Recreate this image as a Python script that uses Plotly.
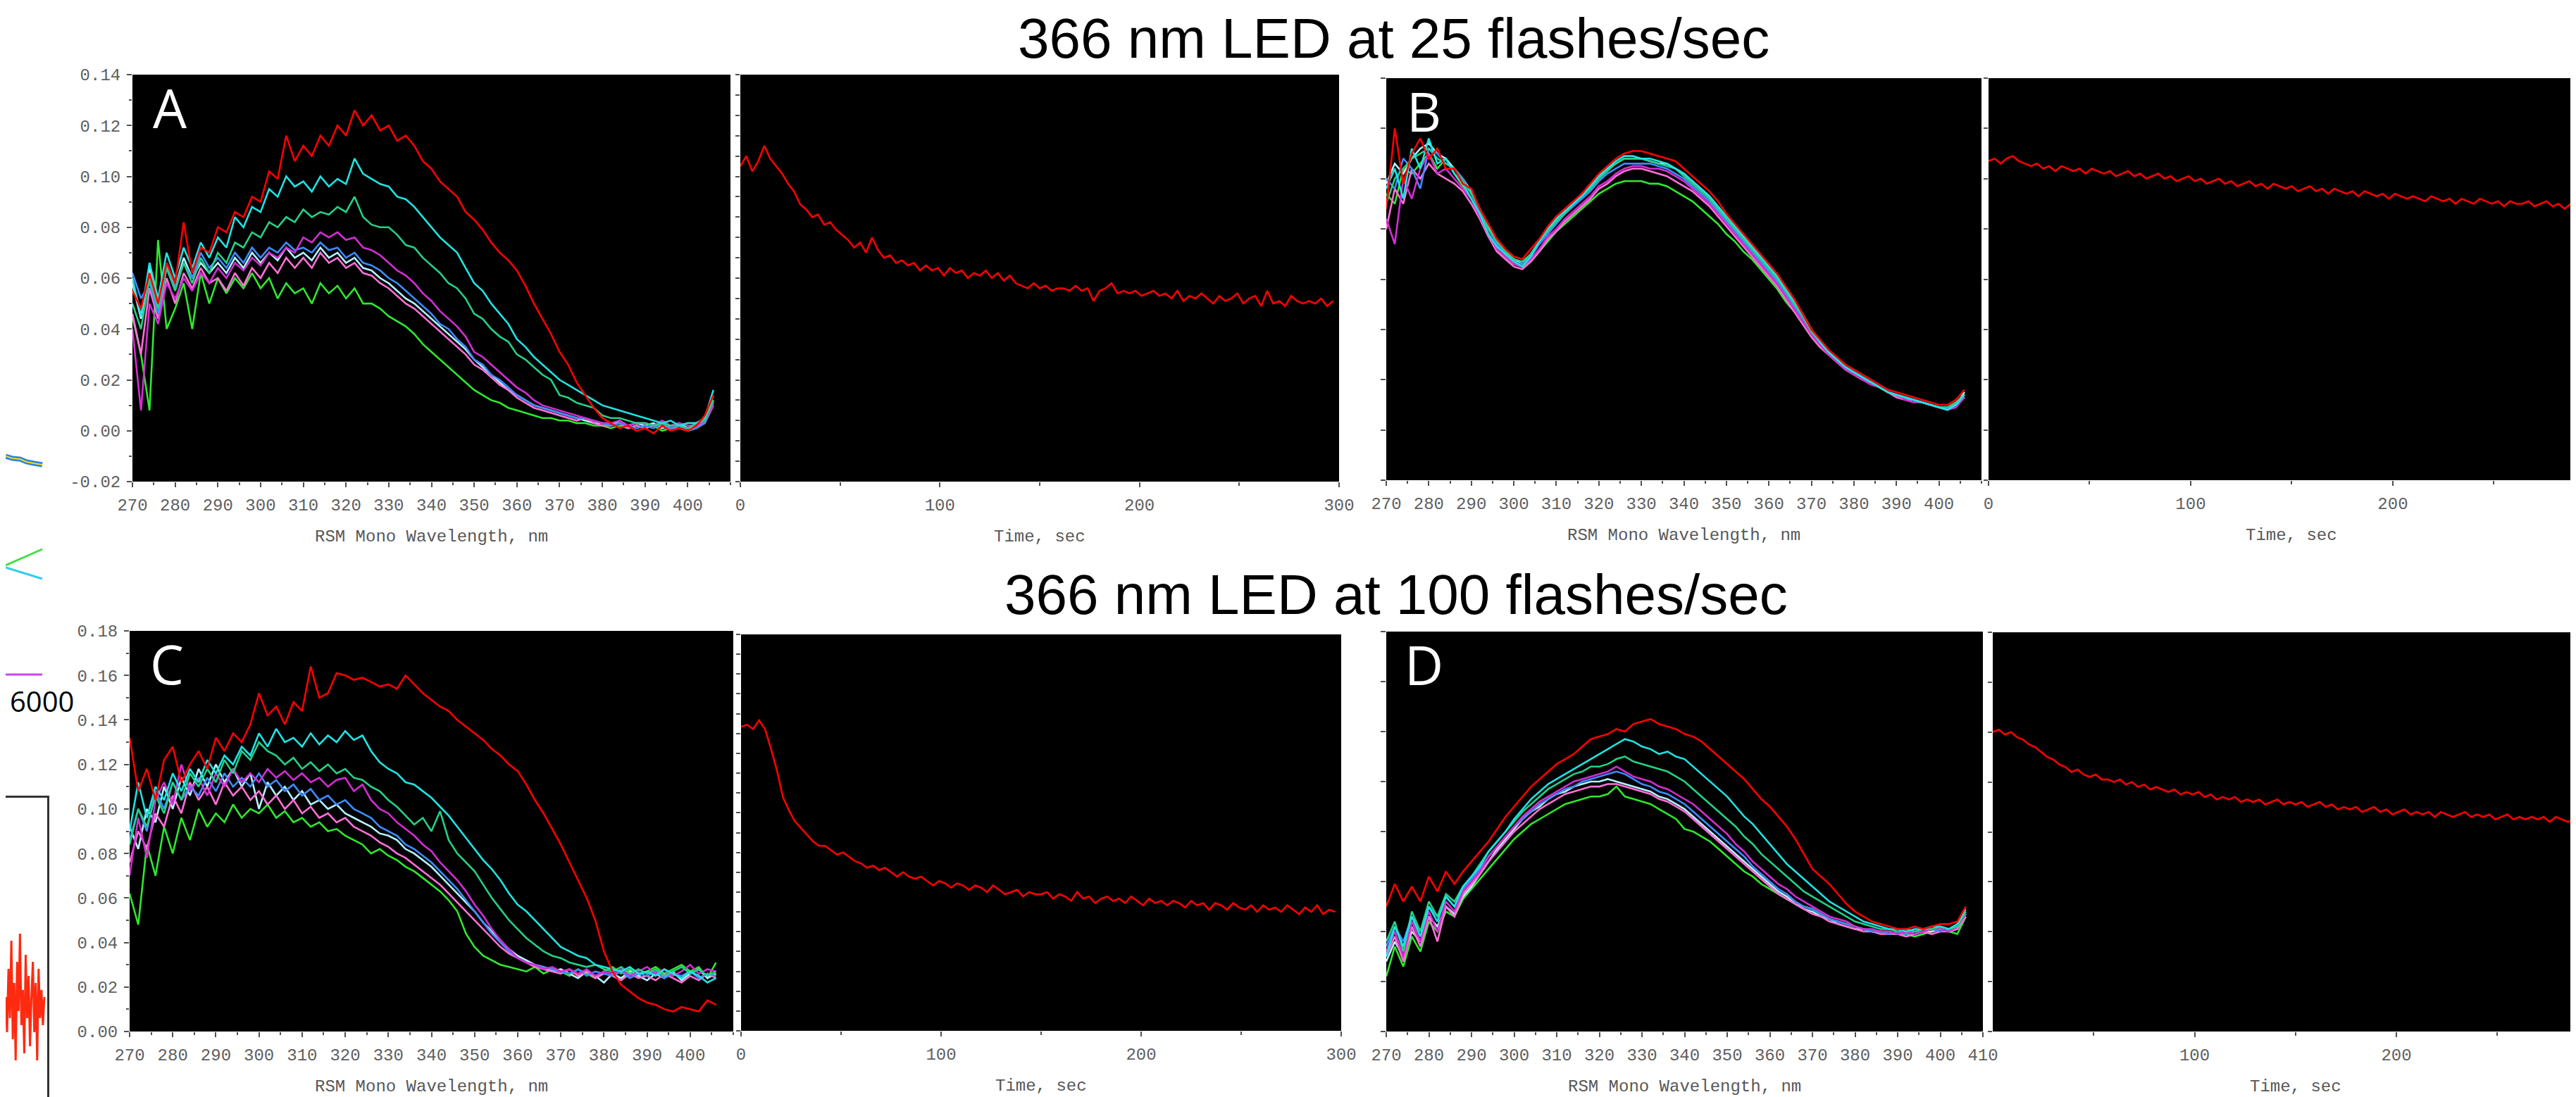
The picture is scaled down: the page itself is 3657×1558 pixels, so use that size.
import plotly.graph_objects as go

W, H = 3657, 1558

# ---------------- data ----------------
# wavelength grid (nm) for the spectra, time grid (s) for kinetics
wl = list(range(270, 407, 2))
t = list(range(0, 300, 3))

# Spectra values are absorbance x 1000
# Panel A (25 flashes/sec)
A_red = [55,48,62,50,66,58,82,62,72,70, 80,78,86,84,92,90,102,99,116,106,
         112,108,116,112,120,116,126,120,124,118, 120,114,116,112,106,103,98,95,92,86,
         83,79,74,70,67,63,57,50,44,38, 31,26,19,14,9,5,3,1,2,0, 1,-1,2,0,1,0,2,6,14]
A_cyan = [60,45,66,52,70,60,72,64,74,68, 76,72,84,80,88,86,95,92,100,96,
          98,94,100,96,99,97,107,101,99,97, 96,92,91,88,84,80,76,73,70,64,
          58,55,50,46,42,36,33,29,26,23, 20,18,16,14,12,10,9,8,7,6, 5,4,3,4,2,3,3,5,16]
A_teal = [50,40,60,48,64,55,66,58,68,62, 70,66,74,72,78,76,82,80,84,82,
          87,84,86,85,88,86,92,84,81,80, 80,77,73,72,68,65,62,58,56,52,
          46,44,40,37,35,30,28,25,22,20, 14,13,11,10,9,6,5,5,4,3, 3,2,3,2,2,1,3,4,12]
A_mag = [40,8,50,42,58,52,60,55,62,58, 64,60,66,63,68,65,70,68,72,70,
         76,74,78,76,78,75,76,72,71,69, 66,63,61,58,54,51,47,44,41,37,
         31,29,26,23,20,17,15,12,10,9, 8,7,6,5,4,3,3,4,2,3, 3,2,4,2,3,2,2,4,10]
A_blue = [62,52,58,46,64,56,66,60,70,64, 68,64,70,66,72,68,72,70,74,71,
          72,70,74,71,72,68,70,66,65,63, 60,58,55,52,49,46,42,40,36,33,
          28,26,22,20,17,14,12,10,9,8, 7,6,5,5,4,3,2,3,2,1, 2,1,3,1,2,0,1,3,11]
A_pink = [46,30,56,44,60,50,62,56,64,58, 60,55,62,57,64,60,66,62,68,64,
          68,64,70,66,68,64,66,62,61,58, 56,53,50,48,45,42,39,36,33,30,
          26,24,21,18,16,13,11,9,8,7, 6,5,4,5,3,2,2,3,1,2, 1,2,2,1,1,0,2,3,10]
A_lcyan = [58,44,64,50,66,56,68,60,66,62, 66,62,68,64,70,66,70,67,72,68,
           70,67,72,68,70,66,68,64,63,60, 58,55,52,50,47,44,41,38,35,32,
           28,25,22,19,16,14,12,10,9,8, 7,6,5,4,3,3,2,4,2,3, 2,3,1,2,3,1,2,4,12]
A_green = [45,30,8,75,40,48,58,40,62,50, 60,54,60,56,62,56,60,52,58,54,
           56,50,58,54,57,52,56,50,50,48, 45,43,41,38,34,31,28,25,22,19,
           16,14,12,11,9,8,7,6,5,5, 4,4,3,3,2,2,1,2,1,2, 1,2,0,1,2,0,1,3,14]

# Panel B
B_red = [88,120,98,110,116,108,112,104,104,98, 96,88,82,76,72,69,68,72,76,81,
         85,88,91,94,98,102,105,108,110,111, 111,110,109,108,107,104,101,98,95,91,
         86,82,78,74,70,66,62,57,52,46, 40,36,32,29,26,24,22,20,18,16, 15,14,13,12,11,10,10,12,16]
B_cyan = [96,104,92,112,104,116,106,108,102,98, 92,86,78,73,70,67,65,69,75,80,
          84,87,90,93,97,101,104,107,109,109, 108,108,107,106,104,102,99,96,93,89,
          85,81,77,73,69,65,61,56,51,46, 40,35,31,28,25,23,21,19,17,15, 14,13,12,11,10,9,8,10,14]
B_teal = [90,100,104,108,110,112,108,106,104,99, 94,88,80,75,71,68,67,70,75,79,
          83,86,90,93,96,100,103,106,108,108, 108,107,106,105,104,101,98,95,92,88,
          84,80,76,72,68,64,60,55,50,45, 39,35,31,28,25,23,21,19,17,15, 14,13,12,11,10,9,9,11,14]
B_mag = [84,74,100,92,104,110,102,104,100,96, 92,85,78,72,69,66,65,68,72,77,
         80,84,87,90,93,97,99,102,104,105, 105,104,104,103,101,99,96,93,90,86,
         82,78,74,70,66,62,58,53,48,43, 38,34,30,27,24,22,20,18,17,15, 14,12,11,11,10,9,8,9,13]
B_blue = [100,96,108,104,96,112,110,106,104,100, 94,87,80,74,70,67,66,69,74,78,
          82,86,89,92,95,99,102,104,106,106, 106,106,105,104,102,100,97,94,91,87,
          83,79,75,71,67,63,59,54,49,44, 38,34,31,28,25,23,21,19,17,15, 14,13,12,11,10,9,9,11,14]
B_pink = [80,96,90,104,100,106,102,100,98,95, 90,84,77,71,68,65,64,67,71,76,
          79,83,86,89,92,96,98,101,103,104, 104,103,102,101,99,97,95,92,89,85,
          81,77,73,69,65,61,57,52,47,42, 37,33,30,27,24,22,20,19,17,15, 13,12,12,11,10,9,9,10,13]
B_lcyan = [98,106,102,108,112,114,110,108,104,100, 95,88,81,75,71,68,66,70,75,80,
           84,87,90,94,97,101,104,106,108,108, 108,107,106,106,104,102,99,96,93,89,
           85,81,77,73,69,65,61,56,51,46, 40,35,31,28,25,23,21,19,17,15, 14,13,12,11,10,9,8,10,15]
B_green = [94,90,104,102,106,110,104,108,102,97, 92,85,78,72,68,66,65,67,71,75,
           79,82,85,88,91,94,96,98,99,99, 99,98,98,97,95,93,91,88,85,82,
           78,75,71,68,64,60,56,51,47,42, 37,33,30,27,24,22,20,19,17,15, 14,13,12,11,10,9,9,10,13]

# Panel C (100 flashes/sec)
C_red = [132,108,118,104,122,128,112,120,126,118, 132,126,134,130,138,152,142,146,138,148,
         144,164,150,152,161,160,158,159,157,155, 156,154,160,156,152,149,146,144,140,137,
         134,131,127,124,120,117,111,104,98,91, 84,76,68,60,50,36,27,21,18,15, 13,12,10,9,11,10,9,14,12]
C_cyan = [90,112,96,110,104,116,108,118,112,122, 116,124,120,128,124,134,128,136,130,132,
          128,134,129,133,130,135,131,133,126,121, 118,116,112,111,108,105,101,97,92,87,
          82,77,73,68,62,57,54,50,46,42, 38,36,34,33,30,29,28,27,29,26, 27,25,28,26,24,27,25,22,24]
C_teal = [84,100,92,106,98,112,104,116,110,118, 112,122,116,126,122,130,126,124,120,123,
          118,121,117,120,116,118,114,113,110,108, 104,101,97,93,96,90,99,86,80,76,
          72,66,60,55,50,46,42,39,36,34, 33,31,30,29,30,28,27,29,26,28, 26,28,25,27,29,26,28,25,27]
C_mag = [70,96,78,104,112,102,120,108,114,106, 116,110,118,112,116,112,118,114,117,113,
         116,112,114,110,113,114,108,111,104,100, 98,94,91,88,84,81,76,72,68,63,
         57,52,46,41,37,33,31,30,28,29, 27,28,26,28,25,27,26,28,25,27, 29,26,28,25,27,30,26,28,27]
C_blue = [86,100,90,108,100,112,104,110,106,114, 108,116,110,114,110,116,110,113,108,111,
          106,109,104,106,102,104,100,98,96,92, 90,88,84,82,79,76,72,68,64,59,
          54,49,44,40,36,33,31,30,29,28, 27,26,28,25,27,26,25,27,24,26, 25,27,24,26,25,27,24,26,25]
C_pink = [76,90,82,98,92,106,98,112,104,110, 102,112,106,110,104,108,102,106,100,104,
          98,101,96,98,94,96,92,90,88,85, 83,80,78,75,72,69,66,62,58,54,
          50,46,42,38,35,33,31,29,28,27, 26,28,25,27,24,26,25,23,26,24, 25,23,26,24,22,25,23,26,24]
C_lcyan = [92,82,100,94,110,100,114,106,118,110, 120,112,118,110,116,100,112,106,110,104,
           108,102,104,100,102,98,96,94,92,89, 88,86,82,80,77,74,70,66,62,58,
           54,49,45,41,37,34,32,30,29,27, 28,26,24,27,25,22,26,24,27,25, 23,26,24,27,23,26,28,24,26]
C_green = [62,48,84,70,92,80,96,86,100,92, 98,94,102,96,100,98,102,96,99,94,
           96,92,94,90,91,88,86,84,80,82, 79,77,74,72,69,66,63,59,54,44,
           38,34,32,30,29,28,27,29,26,28, 27,25,28,26,24,27,29,26,28,25, 27,29,26,28,30,27,29,24,31]

# Panel D
D_red = [50,59,52,58,52,62,56,64,59,64, 68,72,76,81,86,90,94,98,101,104,
         107,109,111,114,117,118,119,121,120,123, 124,125,123,122,121,119,118,116,113,110,
         107,104,101,97,93,90,86,82,77,71, 65,62,59,55,51,48,46,44,43,42, 41,41,42,41,42,43,43,44,50]
D_cyan = [30,42,34,46,38,50,44,54,50,58, 62,66,72,76,80,85,89,93,96,99,
          101,103,105,107,109,111,113,115,117,116, 114,113,111,112,110,109,106,103,100,97,
          94,90,86,83,79,75,71,67,64,61, 58,55,52,50,48,46,44,43,42,41, 41,40,41,41,42,42,41,43,49]
D_teal = [36,44,32,48,40,52,46,55,52,58, 62,67,72,76,80,84,88,91,94,97,
          99,101,103,104,106,106,107,109,110,108, 107,106,105,104,102,100,97,94,91,88,
          85,82,78,75,71,68,65,62,59,56, 54,52,50,48,46,44,43,42,41,41, 40,41,40,41,41,42,41,42,48]
D_mag = [32,40,30,44,36,48,40,52,48,56, 60,64,70,74,78,82,86,89,92,94,
         96,98,100,101,102,103,104,106,104,102, 101,100,98,97,95,93,91,88,85,82,
         79,75,72,68,65,62,59,57,54,52, 50,48,46,45,44,42,41,41,40,40, 39,40,39,40,41,41,40,42,47]
D_blue = [34,42,36,46,40,50,46,54,50,57, 61,65,70,74,78,82,85,88,91,93,
          95,97,98,100,101,102,103,104,103,101, 99,98,96,95,93,91,88,85,82,79,
          76,73,70,66,63,60,57,55,52,50, 49,47,45,44,43,42,41,40,40,39, 40,39,40,40,41,40,41,42,47]
D_pink = [30,38,28,42,34,46,36,50,46,55, 59,63,68,72,76,80,83,86,89,91,
          93,95,96,97,98,98,99,99,98,97, 96,95,93,92,90,88,85,82,79,76,
          73,70,67,64,61,58,55,53,51,49, 47,46,44,43,42,41,40,40,39,39, 39,38,39,40,39,40,40,41,46]
D_lcyan = [28,36,30,40,36,46,42,50,47,54, 58,63,68,73,77,81,85,88,90,93,
           95,96,98,99,100,100,101,100,99,98, 97,96,94,93,91,89,86,83,80,77,
           74,71,68,65,62,59,56,54,51,49, 48,46,45,43,42,41,41,40,40,40, 39,40,39,40,40,41,40,41,47]
D_green = [22,34,26,38,32,44,40,48,46,53, 57,61,65,69,73,77,80,83,85,87,
           89,91,92,93,94,94,95,98,94,93, 92,91,89,87,85,81,80,78,76,73,
           70,67,64,62,59,57,55,53,51,50, 49,47,45,44,43,42,41,40,40,39, 39,39,38,39,40,41,40,39,46]

# Kinetic traces (absorbance x 1000 vs time, every 3 s)
K_A = [104,108,102,106,112,107,104,101,97,94, 89,87,84,85,81,82,79,77,75,72,
       74,70,76,71,68,69,66,67,65,66, 63,65,63,64,61,64,62,63,60,62,
       61,63,60,62,59,61,58,57,56,58, 56,57,55,56,56,55,57,55,56,51,
       55,56,58,54,55,54,55,53,54,55, 53,54,52,55,51,53,52,54,52,50,
       53,51,52,54,50,52,53,49,55,50, 51,49,53,51,50,51,50,52,49,51]
K_B = [107,108,106,108,109,107,106,105,106,104, 105,103,105,104,103,104,102,104,103,102,
       103,101,102,103,101,102,100,101,102,100, 101,99,100,101,99,100,98,99,100,98,
       99,97,98,99,97,98,96,98,97,96, 97,95,96,97,95,96,94,96,95,94,
       95,93,95,94,93,94,92,94,93,92, 93,92,91,93,92,91,92,90,92,91,
       90,92,91,90,91,89,91,90,90,91, 89,90,91,89,90,88,90,89,91,89]
K_C = [138,139,137,141,137,128,118,106,100,95, 92,89,86,84,84,82,80,81,79,77,
       76,74,75,73,74,72,70,72,70,69, 70,68,66,68,67,65,67,66,64,66,
       65,63,66,64,62,63,64,61,63,62, 62,63,60,62,61,59,63,60,61,58,
       60,61,59,60,58,61,59,57,60,58, 59,57,59,58,56,59,57,58,55,58,
       57,55,58,56,55,57,54,57,55,56, 54,57,55,53,56,54,57,53,55,54]
K_D = [120,121,119,120,118,117,115,114,112,110, 109,107,106,104,105,103,102,103,101,101,
       100,101,99,100,98,99,97,98,97,96, 97,95,96,95,96,94,95,93,94,93,
       94,92,93,92,93,91,92,93,91,92, 91,92,90,91,92,90,91,89,90,89,
       90,88,89,90,88,89,87,88,89,87, 88,87,88,86,88,87,86,87,88,86,
       87,86,87,85,86,87,85,86,85,86, 85,86,84,86,85,84,85,83,85,84]

# Fragments of a neighbouring figure cut at the left edge (its own arbitrary units)
frag_red_x = [0,2,4,6,8,10,12,14,16,18,20,22,24,26,28,30,32,34,36,38,40,42,44,46,48,50,52,54]
frag_red_y = [150,100,190,120,230,90,170,60,200,130,240,110,160,70,210,120,180,80,150,200,100,170,60,190,120,160,110,150]
frag_line_x = [0, 52]
frag_green_y = [795, 772]
frag_cyan_y = [798, 814]
frag_mag_y = [950, 950]
frag_blue_x = [0, 10, 20, 30, 40, 52]
frag_blue_y = [640, 643, 644, 648, 650, 652]

# tick labels
spec_ticks = [270, 280, 290, 300, 310, 320, 330, 340, 350, 360, 370, 380, 390, 400]
spec_ticks_D = spec_ticks + [410]
A_yticks = [-0.02, 0.00, 0.02, 0.04, 0.06, 0.08, 0.10, 0.12, 0.14]
A_ylabels = ["-0.02", "0.00", "0.02", "0.04", "0.06", "0.08", "0.10", "0.12", "0.14"]
C_yticks = [0.00, 0.02, 0.04, 0.06, 0.08, 0.10, 0.12, 0.14, 0.16, 0.18]
C_ylabels = ["0.00", "0.02", "0.04", "0.06", "0.08", "0.10", "0.12", "0.14", "0.16", "0.18"]

for arr in [A_red, A_cyan, A_teal, A_mag, A_blue, A_pink, A_lcyan, A_green,
            B_red, B_cyan, B_teal, B_mag, B_blue, B_pink, B_lcyan, B_green,
            C_red, C_cyan, C_teal, C_mag, C_blue, C_pink, C_lcyan, C_green,
            D_red, D_cyan, D_teal, D_mag, D_blue, D_pink, D_lcyan, D_green]:
    assert len(arr) == len(wl), len(arr)
for arr in [K_A, K_B, K_C, K_D]:
    assert len(arr) == len(t), len(arr)

# ---------------- styling ----------------
COL = dict(red="#ff0000", cyan="#1fe3e3", teal="#25cf86", mag="#d22ed2",
           blue="#3d8bff", pink="#ff70d8", lcyan="#b4f2ff", green="#2ee82e")

spectra = {
    "A": dict(green=A_green, lcyan=A_lcyan, pink=A_pink, blue=A_blue, mag=A_mag, teal=A_teal, cyan=A_cyan, red=A_red),
    "B": dict(green=B_green, lcyan=B_lcyan, pink=B_pink, blue=B_blue, mag=B_mag, teal=B_teal, cyan=B_cyan, red=B_red),
    "C": dict(green=C_green, lcyan=C_lcyan, pink=C_pink, blue=C_blue, mag=C_mag, teal=C_teal, cyan=C_cyan, red=C_red),
    "D": dict(green=D_green, lcyan=D_lcyan, pink=D_pink, blue=D_blue, mag=D_mag, teal=D_teal, cyan=D_cyan, red=D_red),
}
kinetics = {"A": K_A, "B": K_B, "C": K_C, "D": K_D}

# panel pixel boxes (left, right, top, bottom)
boxes = {
    "A": [(180, 1029, 98, 676), (1043, 1893, 98, 676)],
    "B": [(1960, 2805, 103, 674), (2815, 3657, 103, 674)],
    "C": [(176, 1033, 888, 1457), (1044, 1896, 893, 1456)],
    "D": [(1960, 2807, 889, 1457), (2821, 3657, 890, 1457)],
}
yranges = {"A": [-0.02, 0.14], "B": [-0.02, 0.14], "C": [0, 0.18], "D": [0, 0.16]}
kin_ydtick = {"A": 0.008, "B": 0.02, "C": 0.009, "D": 0.02}
kin_xrange = {"A": [0, 300], "B": [0, 293.4], "C": [0, 300], "D": [0, 291.8]}
kin_xticks = {"A": [0, 100, 200, 300], "B": [0, 100, 200], "C": [0, 100, 200, 300], "D": [100, 200]}

MONO = "Liberation Mono, Courier New, monospace"
TICKFONT = dict(family=MONO, size=24, color="#606060")
base_axis = dict(showgrid=False, zeroline=False, showline=False, ticks="outside",
                 ticklen=7, tickwidth=2, tickcolor="#505050", tickfont=TICKFONT,
                 fixedrange=True, ticklabelstandoff=4, automargin=False)

fig = go.Figure()
layout = dict(template="none", width=W, height=H,
              margin=dict(l=0, r=0, t=0, b=0, pad=0, autoexpand=False),
              paper_bgcolor="white", plot_bgcolor="rgba(0,0,0,0)", showlegend=False)
shapes = []
annotations = []

def dom_x(l, r):
    return [l / W, r / W]

def dom_y(top, bot):
    return [1 - bot / H, 1 - top / H]

idx = 0
for key in ["A", "B", "C", "D"]:
    # spectral subplot
    idx += 1
    xs, ys = ("x" if idx == 1 else f"x{idx}"), ("y" if idx == 1 else f"y{idx}")
    l, r, tp, bt = boxes[key][0]
    xt = spec_ticks_D if key == "D" else spec_ticks
    xa = dict(base_axis, domain=dom_x(l, r), range=[270, 410], anchor=ys,
              tickvals=xt, ticktext=[str(v) for v in xt],
              minor=dict(dtick=5, tick0=270, ticks="outside", ticklen=4, tickcolor="#505050"))
    ya = dict(base_axis, domain=dom_y(tp, bt), range=yranges[key], anchor=xs)
    if key == "A":
        ya.update(tickvals=A_yticks, ticktext=A_ylabels,
                  minor=dict(dtick=0.01, tick0=0, ticks="outside", ticklen=4, tickcolor="#505050"))
    elif key == "C":
        ya.update(tickvals=C_yticks, ticktext=C_ylabels,
                  minor=dict(dtick=0.01, tick0=0, ticks="outside", ticklen=4, tickcolor="#505050"))
    else:
        ya.update(tickmode="linear", dtick=0.02, tick0=0, showticklabels=False)
    layout["xaxis" if idx == 1 else f"xaxis{idx}"] = xa
    layout["yaxis" if idx == 1 else f"yaxis{idx}"] = ya
    shapes.append(dict(type="rect", xref=f"{xs} domain", yref=f"{ys} domain",
                       x0=0, x1=1, y0=0, y1=1, fillcolor="black", line=dict(width=0), layer="below"))
    for cname, vals in spectra[key].items():
        fig.add_trace(go.Scatter(x=wl, y=[v / 1000 for v in vals], mode="lines",
                                 line=dict(color=COL[cname], width=2.6),
                                 xaxis=xs, yaxis=ys, hoverinfo="skip"))
    annotations.append(dict(text=key, xref="paper", yref="paper",
                            x=(l + 53) / W, y=1 - (tp + 46) / H, xanchor="center", yanchor="middle",
                            showarrow=False, font=dict(family="Open Sans, Liberation Sans", size=76, color="white")))
    annotations.append(dict(text="RSM Mono Wavelength, nm", xref="paper", yref="paper",
                            x=(l + r) / 2 / W, y=1 - (bt + 78) / H, xanchor="center", yanchor="middle",
                            showarrow=False, font=dict(family=MONO, size=24, color="#585858")))

    # kinetic subplot
    idx += 1
    xs, ys = f"x{idx}", f"y{idx}"
    l, r, tp, bt = boxes[key][1]
    xa = dict(base_axis, domain=dom_x(l, r), range=kin_xrange[key], anchor=ys,
              tickvals=kin_xticks[key], ticktext=[str(v) for v in kin_xticks[key]],
              minor=dict(tickvals=[50, 150, 250], ticks="outside", ticklen=5, tickcolor="#505050"))
    ya = dict(base_axis, domain=dom_y(tp, bt), range=yranges[key], anchor=xs,
              tickmode="linear", dtick=kin_ydtick[key], tick0=yranges[key][0], showticklabels=False, ticklen=6)
    layout[f"xaxis{idx}"] = xa
    layout[f"yaxis{idx}"] = ya
    shapes.append(dict(type="rect", xref=f"{xs} domain", yref=f"{ys} domain",
                       x0=0, x1=1, y0=0, y1=1, fillcolor="black", line=dict(width=0), layer="below"))
    fig.add_trace(go.Scatter(x=t, y=[v / 1000 for v in kinetics[key]], mode="lines",
                             line=dict(color="#ff0000", width=2.6),
                             xaxis=xs, yaxis=ys, hoverinfo="skip"))
    # axis title centred on the full 0-300 s span
    span = (r - l) * 300 / kin_xrange[key][1]
    annotations.append(dict(text="Time, sec", xref="paper", yref="paper",
                            x=(l + span / 2) / W, y=1 - (bt + 78) / H, xanchor="center", yanchor="middle",
                            showarrow=False, font=dict(family=MONO, size=24, color="#585858")))

# fragment axes (neighbouring figure cut off at the left edge)
frag_axis = dict(showticklabels=False, ticks="", showgrid=False, zeroline=False,
                 fixedrange=True, automargin=False)
layout["xaxis9"] = dict(frag_axis, domain=[0, 59 / W], range=[0, 58], anchor="y9", side="top",
                        showline=True, linecolor="#333333", linewidth=3)
layout["yaxis9"] = dict(frag_axis, domain=[0, 1 - 1125 / H], range=[0, 433], anchor="x9", side="right",
                        showline=True, linecolor="#333333", linewidth=3)
fig.add_trace(go.Scatter(x=frag_red_x, y=frag_red_y, mode="lines", line=dict(color="#ff2a10", width=3),
                         xaxis="x9", yaxis="y9", hoverinfo="skip"))
layout["xaxis10"] = dict(frag_axis, domain=[0, 60 / W], range=[0, 60], anchor="y10", showline=False)
layout["yaxis10"] = dict(frag_axis, domain=[0, 1], range=[H, 0], anchor="x10", showline=False)
fig.add_trace(go.Scatter(x=frag_blue_x, y=frag_blue_y, mode="lines", line=dict(color="#2d7fe0", width=7),
                         xaxis="x10", yaxis="y10", hoverinfo="skip"))
fig.add_trace(go.Scatter(x=frag_blue_x, y=frag_blue_y, mode="lines", line=dict(color="#e8e020", width=2),
                         xaxis="x10", yaxis="y10", hoverinfo="skip"))
fig.add_trace(go.Scatter(x=frag_line_x, y=frag_green_y, mode="lines", line=dict(color="#44dd44", width=3),
                         xaxis="x10", yaxis="y10", hoverinfo="skip"))
fig.add_trace(go.Scatter(x=frag_line_x, y=frag_cyan_y, mode="lines", line=dict(color="#33ccee", width=3),
                         xaxis="x10", yaxis="y10", hoverinfo="skip"))
fig.add_trace(go.Scatter(x=frag_line_x, y=frag_mag_y, mode="lines", line=dict(color="#cc44ee", width=3),
                         xaxis="x10", yaxis="y10", hoverinfo="skip"))
annotations.append(dict(text="6000", xref="paper", yref="paper", x=4 / W, y=1 - 987 / H,
                        xanchor="left", yanchor="middle", showarrow=False,
                        font=dict(family="Open Sans, Liberation Sans", size=40, color="black")))

# titles
annotations.append(dict(text="366 nm LED at 25 flashes/sec", xref="paper", yref="paper",
                        x=1970 / W, y=1 - 47 / H, xanchor="center", yanchor="middle", showarrow=False,
                        font=dict(family="Liberation Sans, Arial", size=80, color="black")))
annotations.append(dict(text="366 nm LED at 100 flashes/sec", xref="paper", yref="paper",
                        x=1974 / W, y=1 - 836 / H, xanchor="center", yanchor="middle", showarrow=False,
                        font=dict(family="Liberation Sans, Arial", size=80, color="black")))

layout["shapes"] = shapes
layout["annotations"] = annotations
fig.update_layout(**layout)
fig.write_html("out.html")
